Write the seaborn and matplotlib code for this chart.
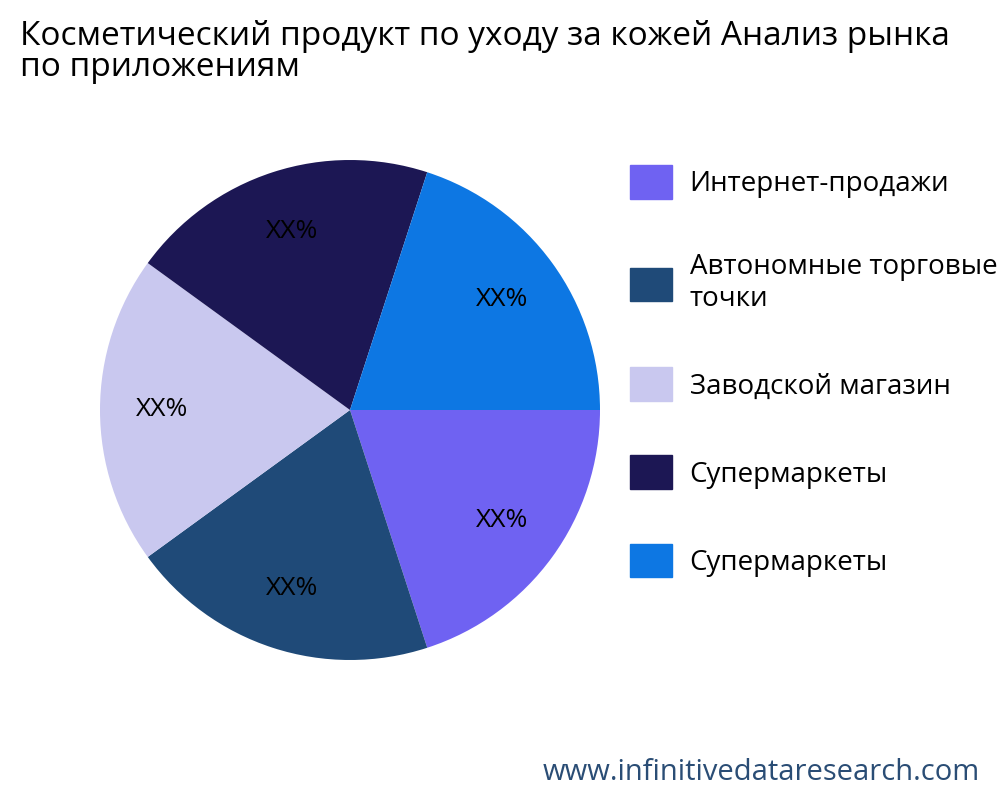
import matplotlib
matplotlib.use("Agg")
import matplotlib.pyplot as plt
import matplotlib.patches as mpatches
import seaborn as sns

sns.set_theme(style="white")
plt.rcParams['font.family'] = ['Open Sans', 'DejaVu Sans']

categories = ["Интернет-продажи", "Автономные торговые\nточки", "Заводской магазин",
              "Супермаркеты", "Супермаркеты"]
shares = [20, 20, 20, 20, 20]
labels = ["XX%"] * 5
colors = ["#6f62f2", "#1f4a78", "#c9c8ef", "#1c1754", "#0d77e3"]

fig = plt.figure(figsize=(10, 8), dpi=100)
ax = fig.add_axes([0.1, 0.175, 0.5, 0.625])
ax.pie(shares, colors=colors, startangle=0, counterclock=False,
       labels=labels, labeldistance=0.75,
       textprops={'fontsize': 19, 'color': 'black', 'ha': 'center', 'va': 'center'},
       wedgeprops={'linewidth': 0})
ax.set_xlim(-1, 1)
ax.set_ylim(-1, 1)
ax.set_aspect('equal')

fig.text(0.02, 0.935, "Косметический продукт по уходу за кожей Анализ рынка\nпо приложениям",
         fontsize=24, va='center', ha='left', linespacing=0.95, color='black')

handles = [mpatches.Patch(color=c, label=n) for c, n in zip(colors, categories)]
fig.legend(handles=handles, loc='upper left', bbox_to_anchor=(0.605, 0.825),
           frameon=False, fontsize=20, handlelength=1.5, handleheight=1.5,
           labelspacing=1.95, handletextpad=0.65, labelcolor='black')

fig.text(0.98, 0.035, "www.infinitivedataresearch.com", fontsize=21,
         color="#2a4d75", ha='right', va='center')

fig.savefig("out.png", dpi=100)
